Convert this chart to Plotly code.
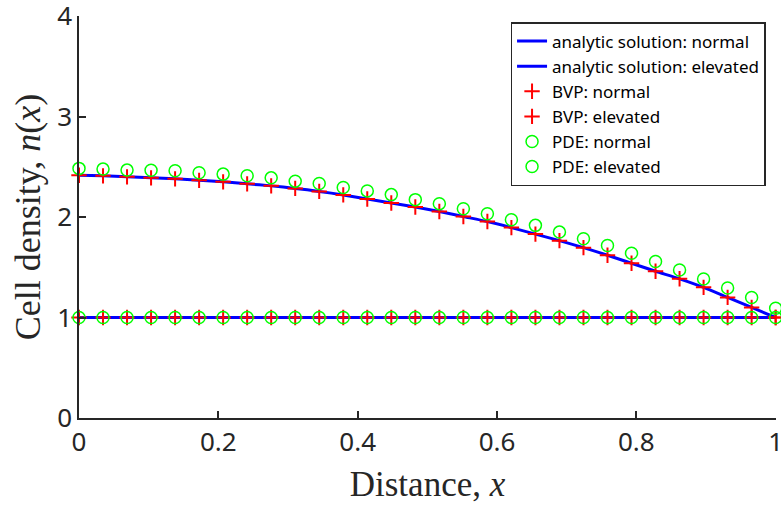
import numpy as np
import plotly.graph_objects as go

# Data
distance = np.linspace(0, 1, 30)

analytic_normal = [1.0] * 30
analytic_elevated = [2.415, 2.41, 2.40, 2.39, 2.38, 2.365, 2.35, 2.33, 2.31, 2.285,
                     2.255, 2.22, 2.18, 2.14, 2.10, 2.055, 2.005, 1.955, 1.895, 1.83,
                     1.765, 1.695, 1.62, 1.54, 1.46, 1.385, 1.30, 1.20, 1.10, 1.00]
bvp_normal = [1.0] * 30
bvp_elevated = list(analytic_elevated)
pde_normal = [1.0] * 30
pde_elevated = [2.484, 2.477, 2.467, 2.465, 2.46, 2.44, 2.427, 2.41, 2.39, 2.357,
                2.333, 2.293, 2.26, 2.223, 2.173, 2.133, 2.083, 2.033, 1.973, 1.917,
                1.85, 1.783, 1.717, 1.64, 1.557, 1.473, 1.384, 1.293, 1.20, 1.093]

x_ticks = [0, 0.2, 0.4, 0.6, 0.8, 1]
x_ticklabels = ["0", "0.2", "0.4", "0.6", "0.8", "1"]
y_ticks = [0, 1, 2, 3, 4]
y_ticklabels = ["0", "1", "2", "3", "4"]

BLUE = "#0000FF"
RED = "#FF0000"
GREEN = "#00FF00"
AX = "#262626"

fig = go.Figure()
fig.add_trace(go.Scatter(x=distance, y=analytic_normal, mode="lines",
                         line=dict(color=BLUE, width=3), cliponaxis=False,
                         name="analytic solution: normal"))
fig.add_trace(go.Scatter(x=distance, y=analytic_elevated, mode="lines",
                         line=dict(color=BLUE, width=3, shape="spline", smoothing=0.6),
                         cliponaxis=False,
                         name="analytic solution: elevated"))
fig.add_trace(go.Scatter(x=distance, y=bvp_normal, mode="markers", cliponaxis=False,
                         marker=dict(symbol="cross-thin", size=11,
                                     line=dict(color=RED, width=2)),
                         name="BVP: normal"))
fig.add_trace(go.Scatter(x=distance, y=bvp_elevated, mode="markers", cliponaxis=False,
                         marker=dict(symbol="cross-thin", size=11,
                                     line=dict(color=RED, width=2)),
                         name="BVP: elevated"))
fig.add_trace(go.Scatter(x=distance, y=pde_normal, mode="markers", cliponaxis=False,
                         marker=dict(symbol="circle-open", size=12, color=GREEN,
                                     line=dict(color=GREEN, width=1.5)),
                         name="PDE: normal"))
fig.add_trace(go.Scatter(x=distance, y=pde_elevated, mode="markers", cliponaxis=False,
                         marker=dict(symbol="circle-open", size=12, color=GREEN,
                                     line=dict(color=GREEN, width=1.5)),
                         name="PDE: elevated"))

fig.update_layout(
    width=781, height=509,
    margin=dict(l=79, r=5, t=16, b=91),
    plot_bgcolor="white", paper_bgcolor="white",
    font=dict(family="Noto Sans", color=AX),
    showlegend=True,
    legend=dict(
        x=0.985, xanchor="right", y=0.985, yanchor="top",
        bgcolor="white", bordercolor=AX, borderwidth=1.5,
        font=dict(family="Noto Sans", size=17, color="#000000"),
        itemwidth=30, tracegroupgap=0,
    ),
    xaxis=dict(
        range=[0, 1.0005], tickvals=x_ticks, ticktext=x_ticklabels, automargin=False,
        ticklabeloverflow="allow",
        showgrid=False, zeroline=False, showline=True, linecolor=AX, linewidth=1.5,
        ticks="inside", ticklen=7, tickwidth=1.5, tickcolor=AX,
        tickfont=dict(family="Noto Sans", size=26, color=AX),
        title=dict(text="Distance, <i>x</i>",
                   font=dict(family="Liberation Serif", size=35, color=AX),
                   standoff=14),
    ),
    yaxis=dict(
        range=[0, 4.0005], tickvals=y_ticks, ticktext=y_ticklabels, automargin=False,
        ticklabeloverflow="allow",
        showgrid=False, zeroline=False, showline=True, linecolor=AX, linewidth=1.5,
        ticks="inside", ticklen=7, tickwidth=1.5, tickcolor=AX,
        tickfont=dict(family="Noto Sans", size=26, color=AX),
        title=dict(text="Cell density, <i>n</i>(<i>x</i>)",
                   font=dict(family="Liberation Serif", size=36, color=AX),
                   standoff=6),
    ),
)

# remove the browser's default 8px body margin so the figure fills the window
fig.write_html("out.html",
               config={"displayModeBar": False},
               post_script="document.body.style.margin='0';document.body.style.overflow='hidden';")
